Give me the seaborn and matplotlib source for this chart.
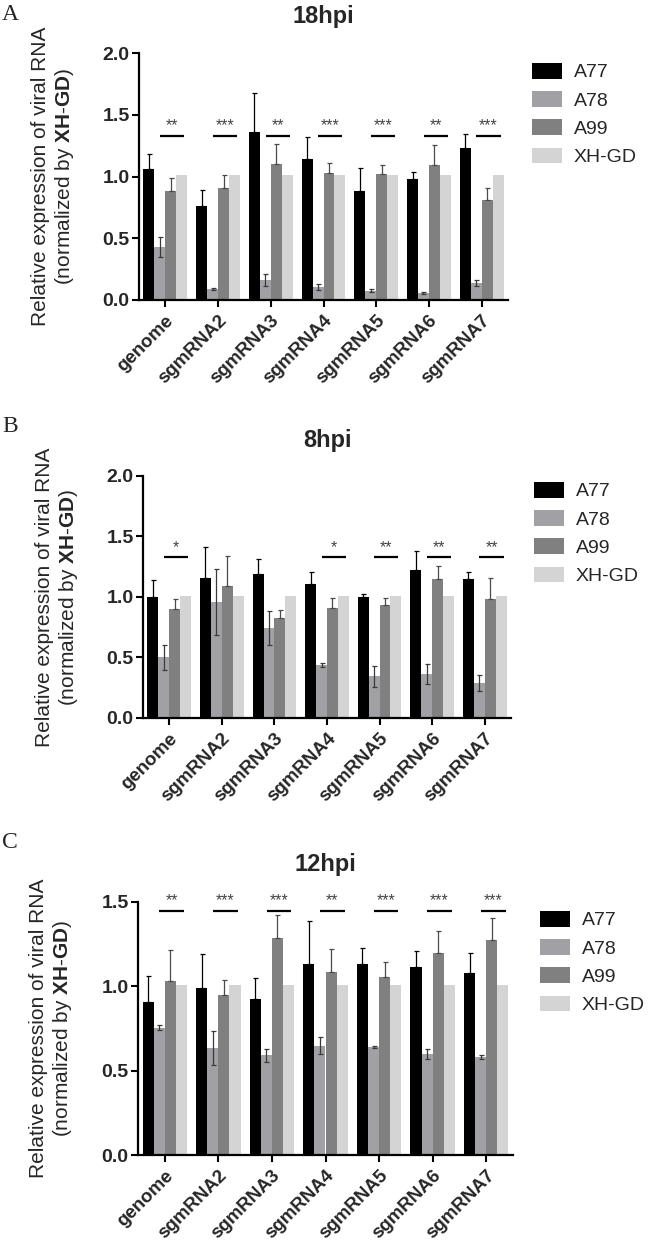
import numpy as np
import pandas as pd
import seaborn as sns
import matplotlib.pyplot as plt

# categories / strains
genes = ['genome', 'sgmRNA2', 'sgmRNA3', 'sgmRNA4', 'sgmRNA5', 'sgmRNA6', 'sgmRNA7']
strains = ['A77', 'A78', 'A99', 'XH-GD']
colors = ['#000000', '#a1a1a5', '#808080', '#d4d4d4']

# 18hpi
a77_18 = [1.06, 0.76, 1.36, 1.14, 0.88, 0.98, 1.23]
a77_18_err = [0.12, 0.13, 0.32, 0.18, 0.19, 0.055, 0.115]
a78_18 = [0.43, 0.087, 0.16, 0.105, 0.076, 0.057, 0.14]
a78_18_err = [0.08, 0.01, 0.05, 0.025, 0.015, 0.005, 0.025]
a99_18 = [0.88, 0.905, 1.10, 1.025, 1.017, 1.093, 0.812]
a99_18_err = [0.11, 0.11, 0.16, 0.085, 0.08, 0.16, 0.095]
xh_18 = [1.01, 1.01, 1.01, 1.01, 1.01, 1.01, 1.01]
stars_18 = ['**', '***', '**', '***', '***', '**', '***']

# 8hpi
a77_8 = [1.00, 1.16, 1.19, 1.11, 1.00, 1.22, 1.15]
a77_8_err = [0.14, 0.25, 0.125, 0.10, 0.025, 0.16, 0.058]
a78_8 = [0.50, 0.96, 0.745, 0.437, 0.343, 0.363, 0.288]
a78_8_err = [0.10, 0.27, 0.14, 0.015, 0.09, 0.085, 0.065]
a99_8 = [0.90, 1.09, 0.83, 0.91, 0.93, 1.15, 0.985]
a99_8_err = [0.08, 0.25, 0.065, 0.085, 0.065, 0.11, 0.17]
xh_8 = [1.01, 1.01, 1.01, 1.01, 1.01, 1.01, 1.01]
stars_8 = ['*', '', '', '*', '**', '**', '**']

# 12hpi
a77_12 = [0.91, 0.99, 0.925, 1.13, 1.13, 1.115, 1.08]
a77_12_err = [0.15, 0.20, 0.125, 0.26, 0.10, 0.095, 0.115]
a78_12 = [0.754, 0.635, 0.59, 0.647, 0.641, 0.597, 0.58]
a78_12_err = [0.015, 0.10, 0.04, 0.05, 0.007, 0.03, 0.01]
a99_12 = [1.03, 0.95, 1.285, 1.084, 1.058, 1.196, 1.273]
a99_12_err = [0.185, 0.085, 0.135, 0.14, 0.085, 0.135, 0.13]
xh_12 = [1.01, 1.01, 1.01, 1.01, 1.01, 1.01, 1.01]
stars_12 = ['**', '***', '***', '**', '***', '***', '***']

sns.set_style('ticks')
plt.rcParams['font.family'] = ['Liberation Sans', 'DejaVu Sans']
plt.rcParams['mathtext.fontset'] = 'custom'
plt.rcParams['mathtext.bf'] = 'Liberation Sans:bold'
plt.rcParams['mathtext.rm'] = 'Liberation Sans'

W, H = 649, 1240
fig = plt.figure(figsize=(W / 100, H / 100), dpi=100)

panels = [
    dict(letter='A', title='18hpi', vals=[a77_18, a78_18, a99_18, xh_18],
         errs=[a77_18_err, a78_18_err, a99_18_err], stars=stars_18, sig_y=1.33,
         rect=[139, 53, 508, 300], ymax=2.0, title_y=17, letter_y=15,
         leg=(532, 63)),
    dict(letter='B', title='8hpi', vals=[a77_8, a78_8, a99_8, xh_8],
         errs=[a77_8_err, a78_8_err, a99_8_err], stars=stars_8, sig_y=1.327,
         rect=[143, 476, 511, 718], ymax=2.0, title_y=440, letter_y=426,
         leg=(534, 482)),
    dict(letter='C', title='12hpi', vals=[a77_12, a78_12, a99_12, xh_12],
         errs=[a77_12_err, a78_12_err, a99_12_err], stars=stars_12, sig_y=1.447,
         rect=[138, 902, 513, 1155], ymax=1.5, title_y=865, letter_y=843,
         leg=(540, 911)),
]

for p in panels:
    l, t, r, b = p['rect']
    ax = fig.add_axes([l / W, 1 - b / H, (r - l) / W, (b - t) / H])
    df = pd.DataFrame({
        'gene': genes * 4,
        'strain': np.repeat(strains, len(genes)),
        'value': np.concatenate(p['vals']),
    })
    sns.barplot(data=df, x='gene', y='value', hue='strain', hue_order=strains,
                palette=colors, width=0.83, errorbar=None, saturation=1,
                linewidth=0, ax=ax)

    # error bars: A78 both ways, A77/A99 upward only
    for k, err in enumerate(p['errs']):
        bars = ax.containers[k]
        xs = [bb.get_x() + bb.get_width() / 2 for bb in bars]
        hs = [bb.get_height() for bb in bars]
        if k == 1:
            yerr = err
            ec = '#3a3a3a'
        else:
            yerr = [np.zeros(len(err)), err]
            ec = '#000000' if k == 0 else '#4a4a4a'
        ax.errorbar(xs, hs, yerr=yerr, fmt='none', ecolor=ec, elinewidth=0.9,
                    capsize=1.8, capthick=0.9, zorder=3)

    # significance lines
    for i, s in enumerate(p['stars']):
        if not s:
            continue
        ax.plot([i - 0.10, i + 0.36], [p['sig_y'], p['sig_y']], color='black',
                lw=1.6, solid_capstyle='butt', clip_on=False)
        ax.annotate(s, xy=(i + 0.13, p['sig_y']), xytext=(0, 4),
                    textcoords='offset points', ha='center', va='baseline',
                    fontsize=11.5, color='#444444', annotation_clip=False)

    ax.set_xlim(-0.5, 6.5)
    ax.set_ylim(0, p['ymax'])
    ax.set_yticks(np.arange(0, p['ymax'] + 0.01, 0.5))
    ax.set_yticklabels([f'{v:.1f}' for v in np.arange(0, p['ymax'] + 0.01, 0.5)],
                       fontsize=14, fontweight='bold')
    ax.set_xticks(range(len(genes)))
    ax.set_xticklabels(genes, rotation=45, ha='right', rotation_mode='anchor',
                       fontsize=13.5, fontweight='bold')
    ax.tick_params(axis='both', direction='out', length=4.8, width=1.5,
                   color='black', pad=2)
    ax.tick_params(axis='x', pad=4)
    for side in ['top', 'right']:
        ax.spines[side].set_visible(False)
    for side in ['left', 'bottom']:
        ax.spines[side].set_linewidth(1.6)
        ax.spines[side].set_color('black')
    ax.set_xlabel('')
    ax.set_ylabel('Relative expression of viral RNA\n(normalized by $\\mathbf{XH}$-$\\mathbf{GD}$)',
                  fontsize=15, linespacing=1.2)
    ax.yaxis.set_label_coords(-0.17, 0.5)

    handles, labels = ax.get_legend_handles_labels()
    ax.get_legend().remove()
    lx, ly = p['leg']
    ax.legend(handles, labels, loc='upper left',
              bbox_to_anchor=(lx / W, 1 - ly / H), bbox_transform=fig.transFigure,
              frameon=False, fontsize=14, handlelength=1.55, handleheight=0.85,
              handletextpad=0.6, labelspacing=0.5, borderpad=0, borderaxespad=0)

    cx = (l + r) / 2 / W
    fig.text(cx, 1 - p['title_y'] / H, p['title'], ha='center', va='center',
             fontsize=17, fontweight='bold')
    fig.text(2 / W, 1 - p['letter_y'] / H, p['letter'], ha='left', va='center',
             fontsize=17, family=['Liberation Serif', 'DejaVu Serif'])

fig.savefig('out.png', dpi=100)
